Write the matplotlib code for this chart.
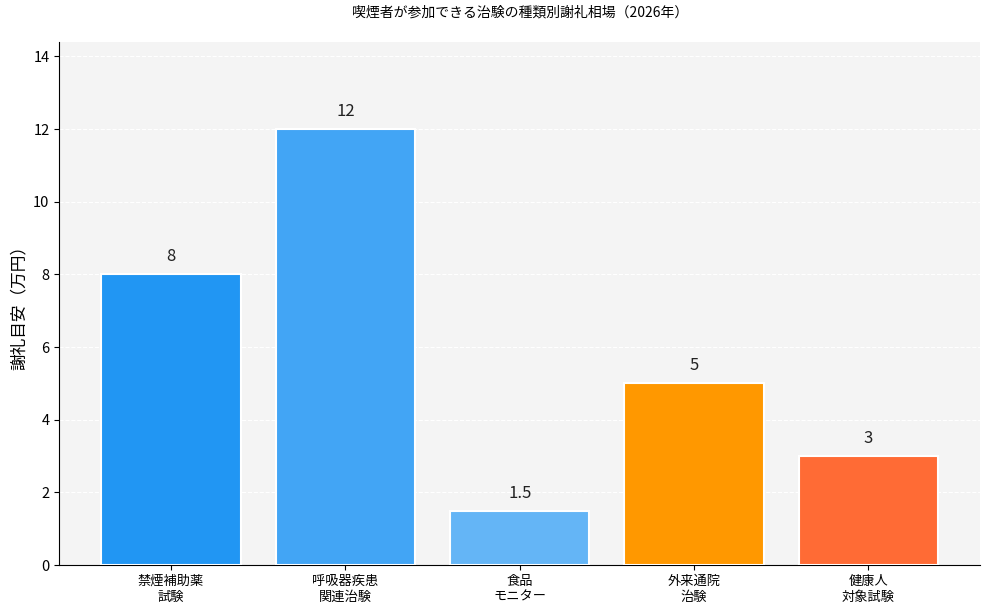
import matplotlib
matplotlib.use("Agg")
import matplotlib.pyplot as plt

plt.rcParams['font.family'] = ['Noto Sans CJK JP', 'DejaVu Sans']

categories = ['禁煙補助薬\n試験', '呼吸器疾患\n関連治験', '食品\nモニター', '外来通院\n治験', '健康人\n対象試験']
values = [8, 12, 1.5, 5, 3]
labels = ['8', '12', '1.5', '5', '3']
colors = ['#2196F3', '#42A5F5', '#64B5F6', '#FF9800', '#FF6B35']

fig, ax = plt.subplots(figsize=(9.89, 6.15), dpi=100)
ax.set_facecolor('#f4f4f4')
x = range(len(categories))
bars = ax.bar(x, values, width=0.8, color=colors, edgecolor='white', linewidth=1.5, zorder=3)
for b, t in zip(bars, labels):
    ax.text(b.get_x() + b.get_width() / 2, b.get_height() + 0.25, t,
            ha='center', va='bottom', fontsize=12, color='#222222')

ax.set_xticks(list(x))
ax.set_xticklabels(categories, fontsize=9.5, linespacing=1.3)
ax.set_ylim(0, 14.4)
ax.set_ylabel('謝礼目安（万円）', fontsize=12)
ax.set_title('喫煙者が参加できる治験の種類別謝礼相場（2026年）', fontsize=10, pad=18)
ax.tick_params(axis='y', labelsize=10.5)
ax.yaxis.grid(True, color='white', linestyle='--', linewidth=0.8, zorder=0)
ax.set_axisbelow(True)
ax.spines['top'].set_visible(False)
ax.spines['right'].set_visible(False)

plt.subplots_adjust(left=0.06, right=0.991, top=0.932, bottom=0.081)
plt.savefig('out.png')
